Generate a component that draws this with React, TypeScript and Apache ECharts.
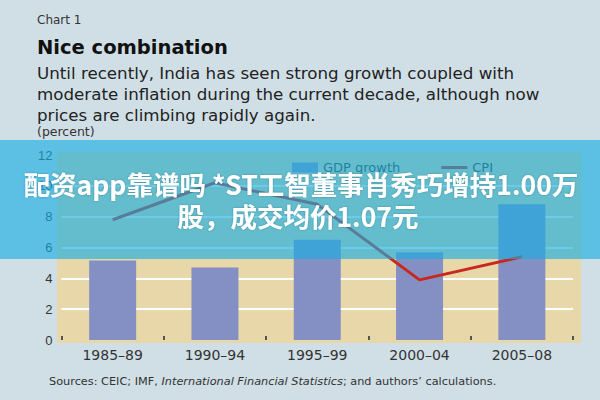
import React, { useEffect, useRef } from "react";
import * as echarts from "echarts";

const categories = ["1985–89", "1990–94", "1995–99", "2000–04", "2005–08"];
const gdpGrowth = [5.15, 4.7, 6.5, 5.7, 8.8];
const cpi = [7.8, 10.2, 8.8, 3.9, 5.4];
const yTicks = { min: 0, max: 12, interval: 2 };

const FONT = "'DejaVu Sans', 'Liberation Sans', sans-serif";
const YFONT = "'Liberation Sans', Arial, sans-serif";
const CJK = "'Noto Sans CJK SC', sans-serif";

export default function App() {
  const ref = useRef<HTMLDivElement>(null);
  useEffect(() => {
    if (!ref.current) return;
    const chart = echarts.init(ref.current, null, { renderer: "svg" });
    chart.setOption({
      animation: false,
      backgroundColor: "#d0dfe6",
      grid: { left: 61.5, right: 27, top: 155, bottom: 60, containLabel: false },
      legend: {
        left: 292,
        top: 161,
        padding: 0,
        itemWidth: 26,
        itemHeight: 10,
        itemGap: 41,
        textStyle: { fontFamily: FONT, fontSize: 13, color: "#333" },
        data: [
          { name: "GDP growth", icon: "rect" },
          { name: "CPI", icon: "path://M0,0 L26,0 L26,3 L0,3 Z" },
        ],
      },
      xAxis: {
        type: "category",
        data: categories,
        axisLine: { show: false },
        axisTick: {
          show: true,
          inside: true,
          length: 4,
          lineStyle: { color: "#555", width: 2 },
        },
        axisLabel: { fontFamily: FONT, fontSize: 14, color: "#333", margin: 8 },
        splitLine: { show: false },
      },
      yAxis: {
        type: "value",
        min: yTicks.min,
        max: yTicks.max,
        interval: yTicks.interval,
        axisLine: { show: false },
        axisTick: { show: false },
        axisLabel: { fontFamily: YFONT, fontSize: 13, color: "#333", margin: 9 },
        splitLine: {
          show: true,
          showMinLine: false,
          showMaxLine: false,
          lineStyle: { color: "#ffffff", width: 2 },
        },
      },
      series: [
        {
          name: "GDP growth",
          type: "bar",
          data: gdpGrowth,
          barWidth: 47,
          itemStyle: { color: "#8490c4" },
        },
        {
          name: "CPI",
          type: "line",
          data: cpi,
          symbol: "none",
          lineStyle: { color: "#c8281e", width: 3 },
          itemStyle: { color: "#c8281e" },
        },
      ],
      graphic: [
        {
          type: "rect",
          z: -1,
          shape: { x: 57, y: 152, width: 524, height: 191 },
          style: { fill: "#e8d7a9" },
        },
        {
          type: "text",
          x: 37,
          y: 20,
          style: { text: "Chart 1", fontFamily: FONT, fontSize: 12, fill: "#333", verticalAlign: "middle" },
        },
        {
          type: "text",
          x: 37,
          y: 47,
          style: {
            text: "Nice combination",
            fontFamily: FONT,
            fontSize: 19.5,
            fontWeight: "bold",
            fill: "#111",
            verticalAlign: "middle",
          },
        },
        {
          type: "text",
          x: 37,
          y: 62,
          style: {
            text:
              "Until recently, India has seen strong growth coupled with\nmoderate inflation during the current decade, although now\nprices are climbing rapidly again.",
            fontFamily: FONT,
            fontSize: 16.7,
            lineHeight: 21,
            fill: "#222",
            verticalAlign: "top",
          },
        },
        {
          type: "text",
          x: 37,
          y: 131,
          style: { text: "(percent)", fontFamily: FONT, fontSize: 12.5, fill: "#333", verticalAlign: "middle" },
        },
        {
          type: "text",
          x: 49,
          y: 381,
          style: {
            text: "Sources: CEIC; IMF, {i|International Financial Statistics}; and authors’ calculations.",
            fontFamily: FONT,
            fontSize: 11.3,
            fill: "#333",
            verticalAlign: "middle",
            rich: {
              i: { fontFamily: FONT, fontSize: 11.3, fontStyle: "italic", fill: "#333" },
            },
          },
        },
        {
          type: "rect",
          z: 100,
          shape: { x: 0, y: 140, width: 600, height: 119 },
          style: { fill: "rgba(25,174,225,0.64)" },
        },
        {
          type: "text",
          z: 101,
          x: 301,
          y: 183,
          style: {
            text: "配资app靠谱吗 *ST工智董事肖秀巧增持1.00万",
            fontFamily: CJK,
            fontSize: 26.5,
            fontWeight: "bold",
            fill: "#ffffff",
            align: "center",
            verticalAlign: "middle",
            textShadowColor: "rgba(0,0,0,0.25)",
            textShadowBlur: 2,
          },
        },
        {
          type: "text",
          z: 101,
          x: 298,
          y: 215,
          style: {
            text: "股，成交均价1.07元",
            fontFamily: CJK,
            fontSize: 26.5,
            fontWeight: "bold",
            fill: "#ffffff",
            align: "center",
            verticalAlign: "middle",
            textShadowColor: "rgba(0,0,0,0.25)",
            textShadowBlur: 2,
          },
        },
      ],
    });
    return () => chart.dispose();
  }, []);
  return (
    <div
      ref={ref}
      style={{ position: "absolute", left: 0, top: 0, width: 600, height: 400 }}
    />
  );
}
